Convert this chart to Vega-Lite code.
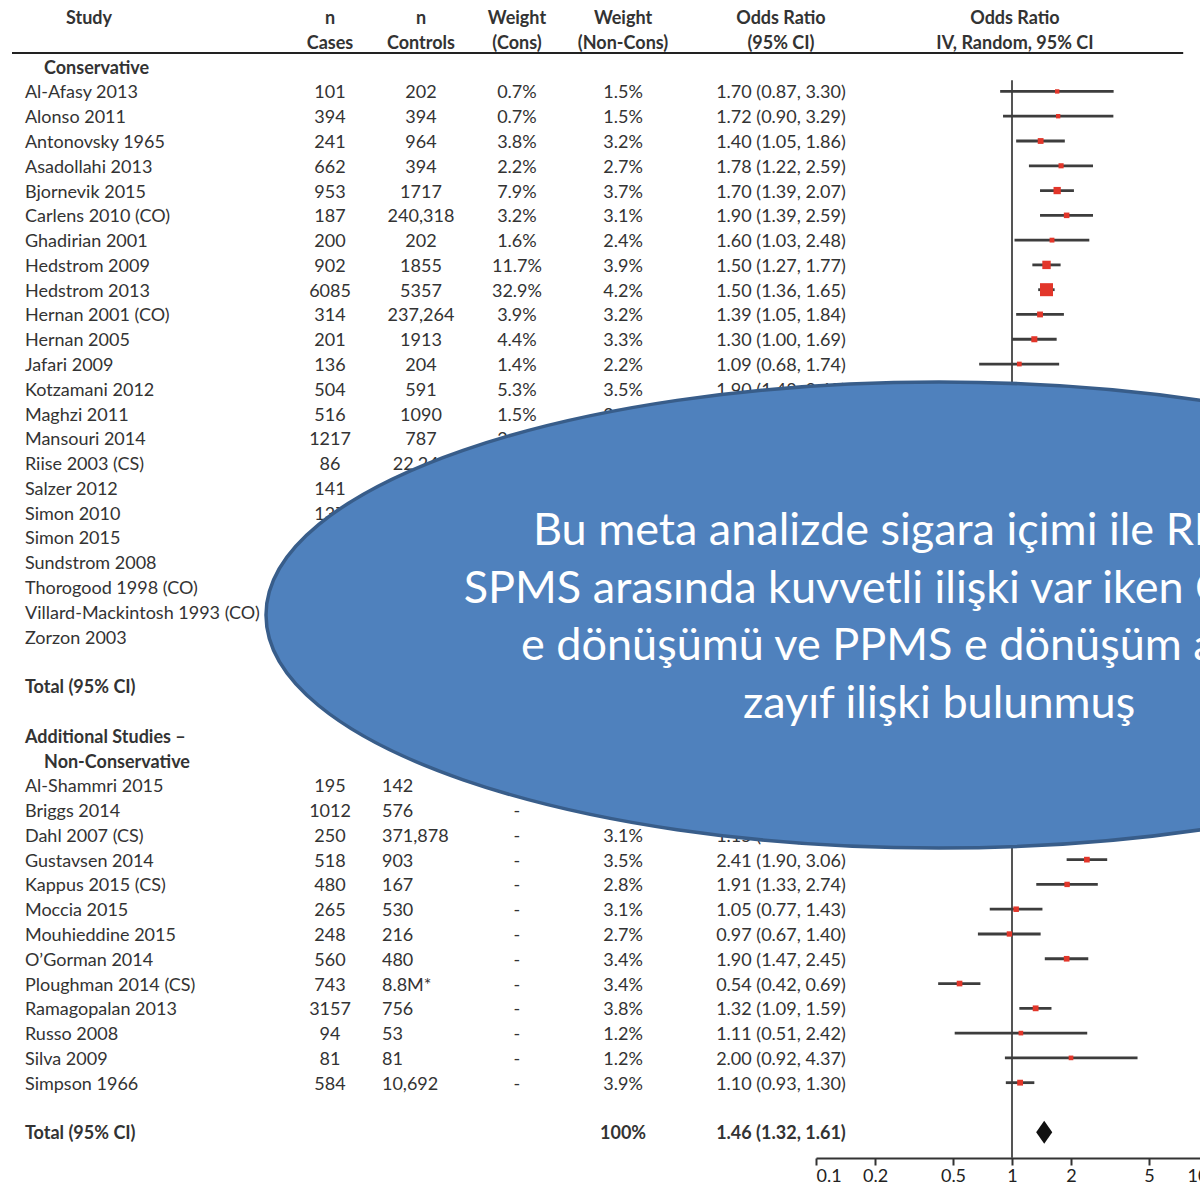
{
  "$schema": "https://vega.github.io/schema/vega-lite/v6.json",
  "width": 1200,
  "height": 1158,
  "autosize": {"type": "none"},
  "padding": {"left": 0, "top": 0, "right": 0, "bottom": 26},
  "background": "white",
  "config": {
    "view": {"stroke": null},
    "font": "Lato",
    "text": {"font": "Lato", "fontSize": 18, "color": "#333333", "baseline": "middle", "dy": 2}
  },
  "datasets": {
    "headers": [
      {"row": 0, "col": "study", "label": "Study"},
      {"row": 0, "col": "cases", "label": "n"},
      {"row": 1, "col": "cases", "label": "Cases"},
      {"row": 0, "col": "controls", "label": "n"},
      {"row": 1, "col": "controls", "label": "Controls"},
      {"row": 0, "col": "wcons", "label": "Weight"},
      {"row": 1, "col": "wcons", "label": "(Cons)"},
      {"row": 0, "col": "wnon", "label": "Weight"},
      {"row": 1, "col": "wnon", "label": "(Non-Cons)"},
      {"row": 0, "col": "ortext", "label": "Odds Ratio"},
      {"row": 1, "col": "ortext", "label": "(95% CI)"},
      {"row": 0, "col": "plot", "label": "Odds Ratio"},
      {"row": 1, "col": "plot", "label": "IV, Random, 95% CI"}
    ],
    "groups": [
      {"row": 2, "indent": true, "label": "Conservative"},
      {"row": 27, "indent": false, "label": "Total (95% CI)"},
      {"row": 29, "indent": false, "label": "Additional Studies –"},
      {"row": 30, "indent": true, "label": "Non-Conservative"},
      {"row": 45, "indent": false, "label": "Total (95% CI)"}
    ],
    "studies": [
      {"row": 3, "g": "C", "study": "Al-Afasy 2013", "cases": "101", "controls": "202", "wcons": "0.7%", "wnon": "1.5%", "ci": "1.70 (0.87, 3.30)", "or": 1.70, "lo": 0.87, "hi": 3.30, "wt": 0.7},
      {"row": 4, "g": "C", "study": "Alonso 2011", "cases": "394", "controls": "394", "wcons": "0.7%", "wnon": "1.5%", "ci": "1.72 (0.90, 3.29)", "or": 1.72, "lo": 0.90, "hi": 3.29, "wt": 0.7},
      {"row": 5, "g": "C", "study": "Antonovsky 1965", "cases": "241", "controls": "964", "wcons": "3.8%", "wnon": "3.2%", "ci": "1.40 (1.05, 1.86)", "or": 1.40, "lo": 1.05, "hi": 1.86, "wt": 3.8},
      {"row": 6, "g": "C", "study": "Asadollahi 2013", "cases": "662", "controls": "394", "wcons": "2.2%", "wnon": "2.7%", "ci": "1.78 (1.22, 2.59)", "or": 1.78, "lo": 1.22, "hi": 2.59, "wt": 2.2},
      {"row": 7, "g": "C", "study": "Bjornevik 2015", "cases": "953", "controls": "1717", "wcons": "7.9%", "wnon": "3.7%", "ci": "1.70 (1.39, 2.07)", "or": 1.70, "lo": 1.39, "hi": 2.07, "wt": 7.9},
      {"row": 8, "g": "C", "study": "Carlens 2010 (CO)", "cases": "187", "controls": "240,318", "wcons": "3.2%", "wnon": "3.1%", "ci": "1.90 (1.39, 2.59)", "or": 1.90, "lo": 1.39, "hi": 2.59, "wt": 3.2},
      {"row": 9, "g": "C", "study": "Ghadirian 2001", "cases": "200", "controls": "202", "wcons": "1.6%", "wnon": "2.4%", "ci": "1.60 (1.03, 2.48)", "or": 1.60, "lo": 1.03, "hi": 2.48, "wt": 1.6},
      {"row": 10, "g": "C", "study": "Hedstrom 2009", "cases": "902", "controls": "1855", "wcons": "11.7%", "wnon": "3.9%", "ci": "1.50 (1.27, 1.77)", "or": 1.50, "lo": 1.27, "hi": 1.77, "wt": 11.7},
      {"row": 11, "g": "C", "study": "Hedstrom 2013", "cases": "6085", "controls": "5357", "wcons": "32.9%", "wnon": "4.2%", "ci": "1.50 (1.36, 1.65)", "or": 1.50, "lo": 1.36, "hi": 1.65, "wt": 32.9},
      {"row": 12, "g": "C", "study": "Hernan 2001 (CO)", "cases": "314", "controls": "237,264", "wcons": "3.9%", "wnon": "3.2%", "ci": "1.39 (1.05, 1.84)", "or": 1.39, "lo": 1.05, "hi": 1.84, "wt": 3.9},
      {"row": 13, "g": "C", "study": "Hernan 2005", "cases": "201", "controls": "1913", "wcons": "4.4%", "wnon": "3.3%", "ci": "1.30 (1.00, 1.69)", "or": 1.30, "lo": 1.00, "hi": 1.69, "wt": 4.4},
      {"row": 14, "g": "C", "study": "Jafari 2009", "cases": "136", "controls": "204", "wcons": "1.4%", "wnon": "2.2%", "ci": "1.09 (0.68, 1.74)", "or": 1.09, "lo": 0.68, "hi": 1.74, "wt": 1.4},
      {"row": 15, "g": "C", "study": "Kotzamani 2012", "cases": "504", "controls": "591", "wcons": "5.3%", "wnon": "3.5%", "ci": "1.90 (1.48, 2.43)", "or": 1.90, "lo": 1.48, "hi": 2.43, "wt": 5.3},
      {"row": 16, "g": "C", "study": "Maghzi 2011", "cases": "516", "controls": "1090", "wcons": "1.5%", "wnon": "2.6%", "ci": ""},
      {"row": 17, "g": "C", "study": "Mansouri 2014", "cases": "1217", "controls": "787", "wcons": "2.1%", "wnon": "", "ci": ""},
      {"row": 18, "g": "C", "study": "Riise 2003 (CS)", "cases": "86", "controls": "22,249", "wcons": "", "wnon": "", "ci": ""},
      {"row": 19, "g": "C", "study": "Salzer 2012", "cases": "141", "controls": "", "wcons": "", "wnon": "", "ci": ""},
      {"row": 20, "g": "C", "study": "Simon 2010", "cases": "137", "controls": "", "wcons": "", "wnon": "", "ci": ""},
      {"row": 21, "g": "C", "study": "Simon 2015", "cases": "", "controls": "", "wcons": "", "wnon": "", "ci": ""},
      {"row": 22, "g": "C", "study": "Sundstrom 2008", "cases": "", "controls": "", "wcons": "", "wnon": "", "ci": ""},
      {"row": 23, "g": "C", "study": "Thorogood 1998 (CO)", "cases": "", "controls": "", "wcons": "", "wnon": "", "ci": ""},
      {"row": 24, "g": "C", "study": "Villard-Mackintosh 1993 (CO)", "cases": "", "controls": "", "wcons": "", "wnon": "", "ci": ""},
      {"row": 25, "g": "C", "study": "Zorzon 2003", "cases": "", "controls": "", "wcons": "", "wnon": "", "ci": ""},
      {"row": 31, "g": "N", "study": "Al-Shammri 2015", "cases": "195", "controls": "142", "wcons": "-", "wnon": "", "ci": ""},
      {"row": 32, "g": "N", "study": "Briggs 2014", "cases": "1012", "controls": "576", "wcons": "-", "wnon": "", "ci": ""},
      {"row": 33, "g": "N", "study": "Dahl 2007 (CS)", "cases": "250", "controls": "371,878", "wcons": "-", "wnon": "3.1%", "ci": "1.15 (0.86, 1.54)", "or": 1.15, "lo": 0.86, "hi": 1.54, "wt": 3.1},
      {"row": 34, "g": "N", "study": "Gustavsen 2014", "cases": "518", "controls": "903", "wcons": "-", "wnon": "3.5%", "ci": "2.41 (1.90, 3.06)", "or": 2.41, "lo": 1.90, "hi": 3.06, "wt": 3.5},
      {"row": 35, "g": "N", "study": "Kappus 2015 (CS)", "cases": "480", "controls": "167", "wcons": "-", "wnon": "2.8%", "ci": "1.91 (1.33, 2.74)", "or": 1.91, "lo": 1.33, "hi": 2.74, "wt": 2.8},
      {"row": 36, "g": "N", "study": "Moccia 2015", "cases": "265", "controls": "530", "wcons": "-", "wnon": "3.1%", "ci": "1.05 (0.77, 1.43)", "or": 1.05, "lo": 0.77, "hi": 1.43, "wt": 3.1},
      {"row": 37, "g": "N", "study": "Mouhieddine 2015", "cases": "248", "controls": "216", "wcons": "-", "wnon": "2.7%", "ci": "0.97 (0.67, 1.40)", "or": 0.97, "lo": 0.67, "hi": 1.40, "wt": 2.7},
      {"row": 38, "g": "N", "study": "O’Gorman 2014", "cases": "560", "controls": "480", "wcons": "-", "wnon": "3.4%", "ci": "1.90 (1.47, 2.45)", "or": 1.90, "lo": 1.47, "hi": 2.45, "wt": 3.4},
      {"row": 39, "g": "N", "study": "Ploughman 2014 (CS)", "cases": "743", "controls": "8.8M*", "wcons": "-", "wnon": "3.4%", "ci": "0.54 (0.42, 0.69)", "or": 0.54, "lo": 0.42, "hi": 0.69, "wt": 3.4},
      {"row": 40, "g": "N", "study": "Ramagopalan 2013", "cases": "3157", "controls": "756", "wcons": "-", "wnon": "3.8%", "ci": "1.32 (1.09, 1.59)", "or": 1.32, "lo": 1.09, "hi": 1.59, "wt": 3.8},
      {"row": 41, "g": "N", "study": "Russo 2008", "cases": "94", "controls": "53", "wcons": "-", "wnon": "1.2%", "ci": "1.11 (0.51, 2.42)", "or": 1.11, "lo": 0.51, "hi": 2.42, "wt": 1.2},
      {"row": 42, "g": "N", "study": "Silva 2009", "cases": "81", "controls": "81", "wcons": "-", "wnon": "1.2%", "ci": "2.00 (0.92, 4.37)", "or": 2.00, "lo": 0.92, "hi": 4.37, "wt": 1.2},
      {"row": 43, "g": "N", "study": "Simpson 1966", "cases": "584", "controls": "10,692", "wcons": "-", "wnon": "3.9%", "ci": "1.10 (0.93, 1.30)", "or": 1.10, "lo": 0.93, "hi": 1.30, "wt": 3.9}
    ],
    "totals": [
      {"row": 45, "wnon": "100%", "ci": "1.46 (1.32, 1.61)", "or": 1.46, "lo": 1.32, "hi": 1.61}
    ],
    "note": [
      {"text": "Bu meta analizde sigara içimi ile RRMS ve\nSPMS arasında kuvvetli ilişki var iken CIS’ten MS\ne dönüşümü ve PPMS e dönüşüm arasında\nzayıf ilişki bulunmuş"}
    ]
  },
  "layer": [
    {
      "description": "Table: headers, group labels and study columns on a page-percent x scale",
      "encoding": {
        "y": {"field": "row", "type": "quantitative", "scale": {"domain": [-0.69, 46.04], "reverse": true, "nice": false, "zero": false}, "axis": null}
      },
      "layer": [
        {
          "data": {"values": [{"row": 1.45}]},
          "mark": {"type": "rule", "color": "#222222", "strokeWidth": 2},
          "encoding": {
            "x": {"datum": 1, "type": "quantitative", "scale": {"domain": [0, 100], "nice": false, "zero": false}, "axis": null},
            "x2": {"datum": 98.6}
          }
        },
        {
          "data": {"name": "headers"},
          "transform": [{"filter": "datum.col === 'study'"}],
          "mark": {"type": "text", "align": "center", "fontWeight": "bold"},
          "encoding": {"x": {"datum": 7.42, "type": "quantitative"}, "text": {"field": "label"}}
        },
        {
          "data": {"name": "headers"},
          "transform": [{"filter": "datum.col === 'cases'"}],
          "mark": {"type": "text", "align": "center", "fontWeight": "bold"},
          "encoding": {"x": {"datum": 27.5, "type": "quantitative"}, "text": {"field": "label"}}
        },
        {
          "data": {"name": "headers"},
          "transform": [{"filter": "datum.col === 'controls'"}],
          "mark": {"type": "text", "align": "center", "fontWeight": "bold"},
          "encoding": {"x": {"datum": 35.08, "type": "quantitative"}, "text": {"field": "label"}}
        },
        {
          "data": {"name": "headers"},
          "transform": [{"filter": "datum.col === 'wcons'"}],
          "mark": {"type": "text", "align": "center", "fontWeight": "bold"},
          "encoding": {"x": {"datum": 43.08, "type": "quantitative"}, "text": {"field": "label"}}
        },
        {
          "data": {"name": "headers"},
          "transform": [{"filter": "datum.col === 'wnon'"}],
          "mark": {"type": "text", "align": "center", "fontWeight": "bold"},
          "encoding": {"x": {"datum": 51.92, "type": "quantitative"}, "text": {"field": "label"}}
        },
        {
          "data": {"name": "headers"},
          "transform": [{"filter": "datum.col === 'ortext'"}],
          "mark": {"type": "text", "align": "center", "fontWeight": "bold"},
          "encoding": {"x": {"datum": 65.08, "type": "quantitative"}, "text": {"field": "label"}}
        },
        {
          "data": {"name": "headers"},
          "transform": [{"filter": "datum.col === 'plot'"}],
          "mark": {"type": "text", "align": "center", "fontWeight": "bold"},
          "encoding": {"x": {"datum": 84.58, "type": "quantitative"}, "text": {"field": "label"}}
        },
        {
          "data": {"name": "groups"},
          "transform": [{"filter": "datum.indent"}],
          "mark": {"type": "text", "align": "left", "fontWeight": "bold"},
          "encoding": {"x": {"datum": 3.67, "type": "quantitative"}, "text": {"field": "label"}}
        },
        {
          "data": {"name": "groups"},
          "transform": [{"filter": "!datum.indent"}],
          "mark": {"type": "text", "align": "left", "fontWeight": "bold"},
          "encoding": {"x": {"datum": 2.08, "type": "quantitative"}, "text": {"field": "label"}}
        },
        {
          "data": {"name": "studies"},
          "mark": {"type": "text", "align": "left"},
          "encoding": {"x": {"datum": 2.08, "type": "quantitative"}, "text": {"field": "study"}}
        },
        {
          "data": {"name": "studies"},
          "mark": {"type": "text", "align": "center"},
          "encoding": {"x": {"datum": 27.5, "type": "quantitative"}, "text": {"field": "cases"}}
        },
        {
          "data": {"name": "studies"},
          "transform": [{"filter": "datum.g === 'C'"}],
          "mark": {"type": "text", "align": "center"},
          "encoding": {"x": {"datum": 35.08, "type": "quantitative"}, "text": {"field": "controls"}}
        },
        {
          "data": {"name": "studies"},
          "transform": [{"filter": "datum.g === 'N'"}],
          "mark": {"type": "text", "align": "left"},
          "encoding": {"x": {"datum": 31.83, "type": "quantitative"}, "text": {"field": "controls"}}
        },
        {
          "data": {"name": "studies"},
          "mark": {"type": "text", "align": "center"},
          "encoding": {"x": {"datum": 43.08, "type": "quantitative"}, "text": {"field": "wcons"}}
        },
        {
          "data": {"name": "studies"},
          "mark": {"type": "text", "align": "center"},
          "encoding": {"x": {"datum": 51.92, "type": "quantitative"}, "text": {"field": "wnon"}}
        },
        {
          "data": {"name": "studies"},
          "mark": {"type": "text", "align": "center"},
          "encoding": {"x": {"datum": 65.08, "type": "quantitative"}, "text": {"field": "ci"}}
        },
        {
          "data": {"name": "totals"},
          "mark": {"type": "text", "align": "center", "fontWeight": "bold"},
          "encoding": {"x": {"datum": 51.92, "type": "quantitative"}, "text": {"field": "wnon"}}
        },
        {
          "data": {"name": "totals"},
          "mark": {"type": "text", "align": "center", "fontWeight": "bold"},
          "encoding": {"x": {"datum": 65.08, "type": "quantitative"}, "text": {"field": "ci"}}
        }
      ]
    },
    {
      "description": "Forest plot on a log odds-ratio scale",
      "encoding": {
        "y": {"field": "row", "type": "quantitative", "scale": {"domain": [-0.69, 46.04], "reverse": true, "nice": false, "zero": false}, "axis": null}
      },
      "layer": [
        {
          "data": {"values": [{"or": 1, "row": 2.55, "rowEnd": 46.04}]},
          "mark": {"type": "rule", "color": "#555555", "strokeWidth": 2},
          "encoding": {
            "x": {
              "field": "or", "type": "quantitative",
              "scale": {"type": "log", "domain": [0.1, 10], "range": [816, 1208], "nice": false},
              "axis": {
                "orient": "bottom",
                "values": [0.1, 0.2, 0.5, 1, 2, 5, 10], "format": "~g", "title": null, "grid": false,
                "labelFlush": true, "labelFont": "Lato", "labelFontSize": 18, "labelColor": "#222222",
                "labelPadding": 2, "domainColor": "#333333", "domainWidth": 2,
                "tickColor": "#333333", "tickWidth": 2, "tickSize": 7
              }
            },
            "y2": {"field": "rowEnd"}
          }
        },
        {
          "data": {"name": "studies"},
          "transform": [{"filter": "isValid(datum.lo)"}],
          "mark": {"type": "rule", "color": "#3d3d3d", "strokeWidth": 2.8},
          "encoding": {
            "x": {"field": "lo", "type": "quantitative"},
            "x2": {"field": "hi"}
          }
        },
        {
          "data": {"name": "studies"},
          "transform": [{"filter": "isValid(datum.or)"}],
          "mark": {"type": "point", "shape": "square", "filled": true, "color": "#e2362a", "opacity": 1},
          "encoding": {
            "x": {"field": "or", "type": "quantitative"},
            "size": {"field": "wt", "type": "quantitative", "scale": {"domain": [0, 33], "range": [16, 170]}, "legend": null}
          }
        },
        {
          "data": {"name": "totals"},
          "mark": {"type": "point", "shape": "M0,-1L0.7,0L0,1L-0.7,0Z", "filled": true, "color": "#111111", "opacity": 1, "size": 529},
          "encoding": {"x": {"field": "or", "type": "quantitative"}}
        }
      ]
    },
    {
      "description": "Callout ellipse with its note",
      "data": {"name": "note"},
      "encoding": {
        "x": {"datum": 78.25, "type": "quantitative", "scale": {"domain": [0, 100], "nice": false, "zero": false}, "axis": null}
      },
      "layer": [
        {
          "mark": {
            "type": "point",
            "shape": "M-1,0C-1,-0.1912,-0.5523,-0.3462,0,-0.3462C0.5523,-0.3462,1,-0.1912,1,0C1,0.1912,0.5523,0.3462,0,0.3462C-0.5523,0.3462,-1,0.1912,-1,0Z",
            "filled": true, "fill": "#4f81bd", "stroke": "#385d8a", "strokeWidth": 3.5, "opacity": 1, "fillOpacity": 1, "strokeOpacity": 1,
            "size": 1811716
          },
          "encoding": {
            "y": {"datum": 24.13, "type": "quantitative", "scale": {"domain": [-0.69, 46.04], "reverse": true, "nice": false, "zero": false}, "axis": null}
          }
        },
        {
          "mark": {"type": "text", "align": "center", "baseline": "middle", "dy": 0, "lineBreak": "\n", "lineHeight": 57.7, "font": "Lato", "fontSize": 45, "color": "#ffffff"},
          "encoding": {
            "y": {"datum": 20.74, "type": "quantitative"},
            "text": {"field": "text"}
          }
        }
      ]
    }
  ],
  "resolve": {"scale": {"x": "independent"}}
}
